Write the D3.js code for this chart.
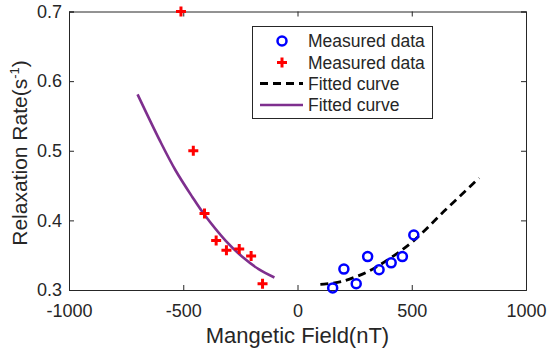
<!DOCTYPE html>
<html>
<head>
<meta charset="utf-8">
<script src="https://cdn.jsdelivr.net/npm/d3@7"></script>
<style>
  body { margin: 0; background: #fff; }
  text { font-family: "Liberation Sans", Arial, sans-serif; fill: #262626; }
</style>
</head>
<body>
<script>
// values
const posField = [154, 203, 257, 307, 357, 410, 459, 509];
const posRate = [0.303, 0.330, 0.309, 0.348, 0.329, 0.339, 0.348, 0.379];
const negField = [-510, -456, -407, -356, -311, -255, -203, -153];
const negRate = [0.700, 0.500, 0.410, 0.371, 0.357, 0.359, 0.349, 0.309];
const posFitField = [100, 190, 305, 407, 509, 641, 795];
const posFitRate = [0.308, 0.312, 0.326, 0.346, 0.371, 0.413, 0.461];
const negFitField = [-700, -600, -534, -461, -407, -315, -243, -170, -101];
const negFitRate = [0.581, 0.513, 0.472, 0.434, 0.408, 0.371, 0.348, 0.330, 0.318];
const xTicks = [-1000, -500, 0, 500, 1000];
const yTicks = [0.3, 0.4, 0.5, 0.6, 0.7];

const width = 550, height = 352;
const margin = { top: 11.5, right: 24, bottom: 62, left: 69 };
const axisColor = "#262626";

const svg = d3.select("body").append("svg")
    .attr("width", width)
    .attr("height", height);

const x = d3.scaleLinear().domain([-1000, 1000]).range([margin.left, width - margin.right]);
const y = d3.scaleLinear().domain([0.3, 0.7]).range([height - margin.bottom, margin.top]);

// axes, box style with mirrored ticks
const tick = 5;
svg.append("g")
    .attr("transform", `translate(0,${y(0.3)})`)
    .call(d3.axisBottom(x).tickValues(xTicks).tickSize(-tick).tickPadding(14).tickFormat(d => String(d)))
    .call(g => g.selectAll("text").style("font-size", "18px").attr("dy", "0.71em"));
svg.append("g")
    .attr("transform", `translate(0,${y(0.7)})`)
    .call(d3.axisTop(x).tickValues(xTicks).tickSize(-tick).tickFormat(""));
svg.append("g")
    .attr("transform", `translate(${x(-1000)},0)`)
    .call(d3.axisLeft(y).tickValues(yTicks).tickSize(-tick).tickPadding(7).tickFormat(d3.format(".1f")))
    .call(g => g.selectAll("text").style("font-size", "18px"));
svg.append("g")
    .attr("transform", `translate(${x(1000)},0)`)
    .call(d3.axisRight(y).tickValues(yTicks).tickSize(-tick).tickFormat(""));
svg.selectAll(".domain, .tick line").attr("stroke", axisColor).attr("stroke-width", 1);
svg.selectAll(".tick text").attr("fill", axisColor);

// axis labels
svg.append("text")
    .attr("x", (x(-1000) + x(1000)) / 2)
    .attr("y", 343)
    .attr("text-anchor", "middle")
    .style("font-size", "22px")
    .text("Mangetic Field(nT)");

const yl = svg.append("text")
    .attr("transform", `translate(27,153) rotate(-90)`)
    .attr("text-anchor", "middle")
    .style("font-size", "21px");
yl.append("tspan").text("Relaxation Rate(s");
yl.append("tspan").attr("dy", -8).style("font-size", "13px").text("-1");
yl.append("tspan").attr("dy", 8).text(")");

const plot = svg.append("g");
const line = d3.line().x(d => x(d[0])).y(d => y(d[1])).curve(d3.curveCatmullRom);

// fitted curves
plot.append("path")
    .datum(d3.zip(negFitField, negFitRate))
    .attr("d", line)
    .attr("fill", "none")
    .attr("stroke", "#7e2f8e")
    .attr("stroke-width", 2.6);
plot.append("path")
    .datum(d3.zip(posFitField, posFitRate))
    .attr("d", line)
    .attr("fill", "none")
    .attr("stroke", "#000")
    .attr("stroke-width", 2.8)
    .attr("stroke-dasharray", "8,5");

// measured points
const plus = "M-5,0H5M0,-5V5";
plot.selectAll(".pos").data(d3.zip(posField, posRate)).join("circle")
    .attr("cx", d => x(d[0]))
    .attr("cy", d => y(d[1]))
    .attr("r", 4.5)
    .attr("fill", "none")
    .attr("stroke", "#0000ff")
    .attr("stroke-width", 2.5);
plot.selectAll(".neg").data(d3.zip(negField, negRate)).join("path")
    .attr("transform", d => `translate(${x(d[0])},${y(d[1])})`)
    .attr("d", plus)
    .attr("stroke", "#ff0000")
    .attr("stroke-width", 3);

// legend
const leg = svg.append("g");
leg.append("rect")
    .attr("x", 252.5).attr("y", 26.5)
    .attr("width", 180).attr("height", 92)
    .attr("fill", "#fff")
    .attr("stroke", axisColor)
    .attr("stroke-width", 1);
const rows = [
    { label: "Measured data", type: "circle" },
    { label: "Measured data", type: "cross" },
    { label: "Fitted curve", type: "dash" },
    { label: "Fitted curve", type: "solid" }
];
const rowY = [41, 62.5, 83.5, 105];
rows.forEach((r, i) => {
    const cy = rowY[i];
    if (r.type === "circle") {
        leg.append("circle").attr("cx", 282).attr("cy", cy).attr("r", 4.5)
            .attr("fill", "none").attr("stroke", "#0000ff").attr("stroke-width", 2.5);
    } else if (r.type === "cross") {
        leg.append("path").attr("transform", `translate(282,${cy})`)
            .attr("d", plus)
            .attr("stroke", "#ff0000").attr("stroke-width", 3);
    } else {
        leg.append("line").attr("x1", 260).attr("x2", 303).attr("y1", cy).attr("y2", cy)
            .attr("stroke", r.type === "dash" ? "#000" : "#7e2f8e")
            .attr("stroke-width", r.type === "dash" ? 2.8 : 2.6)
            .attr("stroke-dasharray", r.type === "dash" ? "8,5" : null);
    }
    leg.append("text")
        .attr("x", 308).attr("y", cy).attr("dy", "0.35em")
        .style("font-size", "17.5px")
        .attr("fill", "#000")
        .text(r.label);
});
</script>
</body>
</html>
